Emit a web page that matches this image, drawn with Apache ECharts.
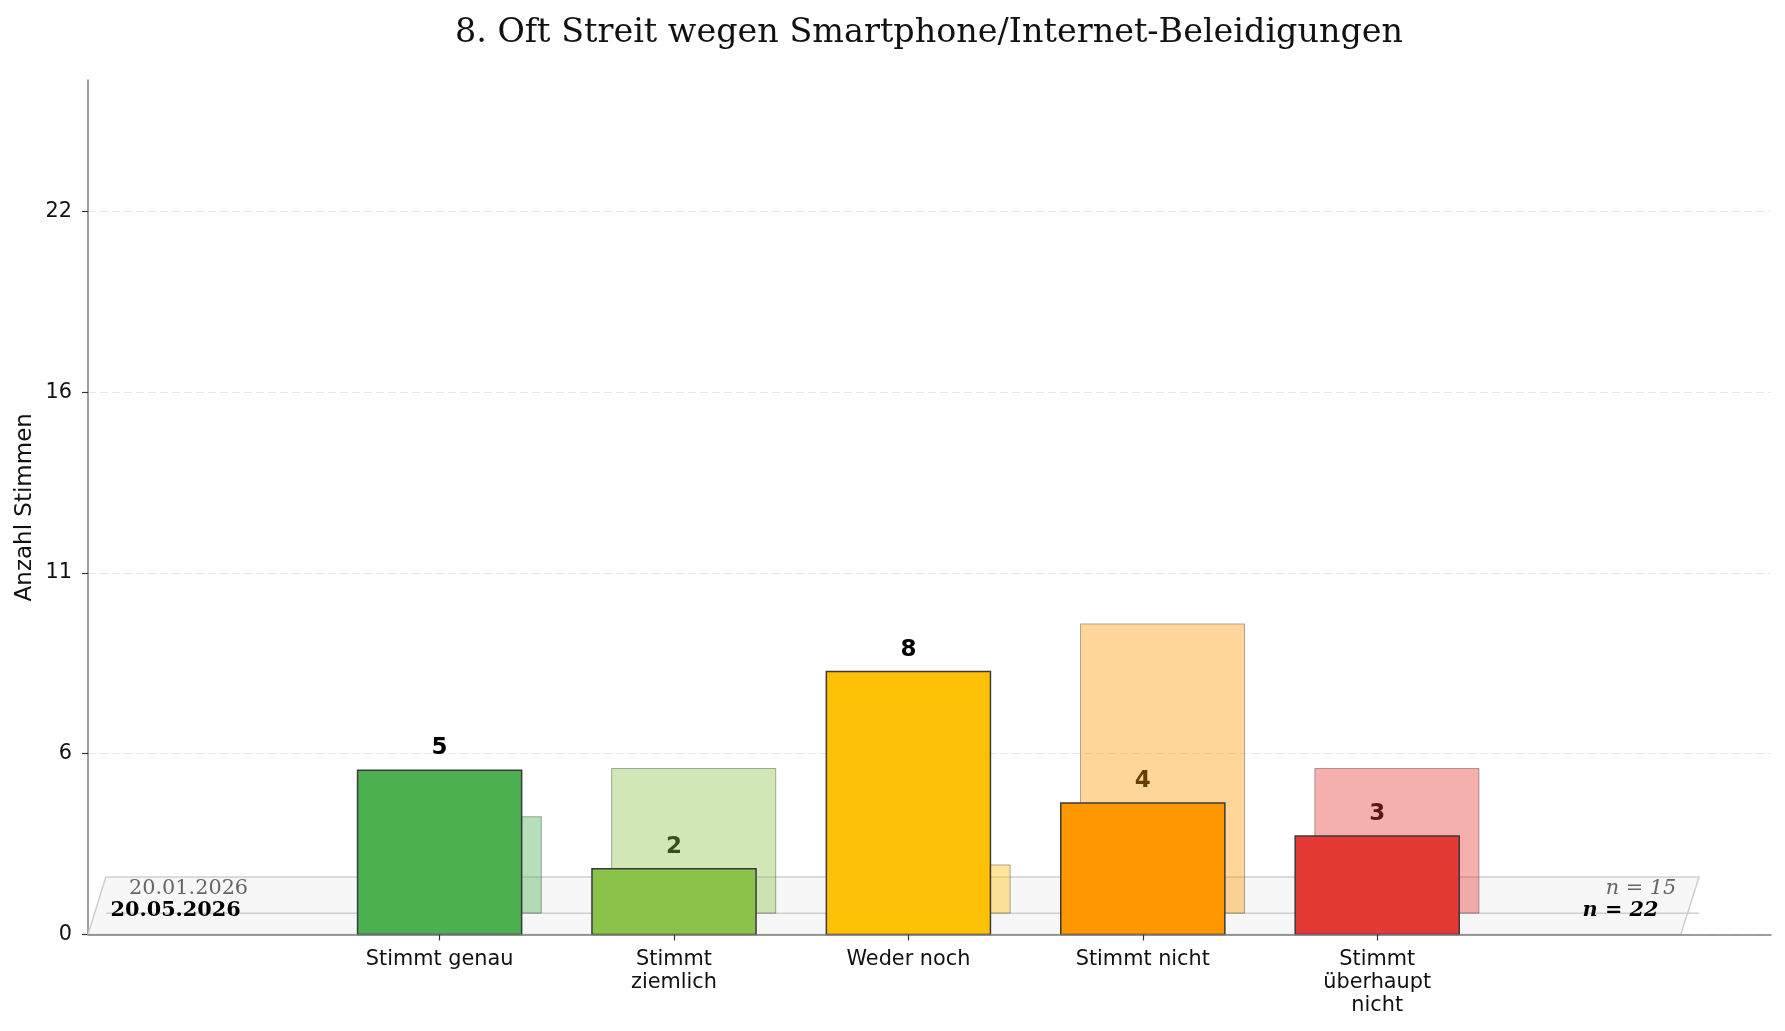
<!DOCTYPE html>
<html>
<head>
<meta charset="utf-8">
<script src="https://cdn.jsdelivr.net/npm/echarts@6/dist/echarts.min.js"></script>
<style>
  html, body { margin: 0; padding: 0; background: #fff; }
  #chart { width: 1785px; height: 1031px; }
</style>
</head>
<body>
<div id="chart"></div>
<script>
// Antwortskala
const categories = ['Stimmt genau', 'Stimmt\nziemlich', 'Weder noch', 'Stimmt nicht', 'Stimmt\nüberhaupt\nnicht'];
const colors = ['#4caf50', '#8bc34a', '#ffc107', '#ff9800', '#e53935'];
// aktuelle Umfrage
const currentDate = '20.05.2026';
const currentVotes = [5, 2, 8, 4, 3];
// vorherige Umfrage
const previousDate = '20.01.2026';
const previousVotes = [2, 3, 1, 6, 3];
// y-Ticks (Beschriftung gerundet)
const yTickValues = [0, 5.5, 11, 16.5, 22];
const yTickLabels = ['0', '6', '11', '16', '22'];

const nCurrent = currentVotes.reduce((a, b) => a + b, 0);
const nPrevious = previousVotes.reduce((a, b) => a + b, 0);
// alte Werte auf die aktuelle Teilnehmerzahl hochgerechnet
const scale = nCurrent / nPrevious;

const BAR_W = 0.7;
const DEPTH_X = 0.084;
const DEPTH_Y = 0.65;

function rectFromData(api, x0, x1, y0, y1) {
  const lt = api.coord([x0, y1]);
  const rb = api.coord([x1, y0]);
  return { x: lt[0], y: lt[1], width: rb[0] - lt[0], height: rb[1] - lt[1] };
}

function renderPlatform(params, api) {
  const p = (x, y) => api.coord([x, y]);
  const l1 = p(-1.424, DEPTH_Y), l2 = p(5.373, DEPTH_Y);
  const t1 = p(-1.325, 1.41), t2 = p(-1.404, 0.72);
  const t3 = p(5.276, 1.41), t4 = p(5.2, 0.72);
  const serif = 'DejaVu Serif';
  return {
    type: 'group',
    children: [
      {
        type: 'polygon',
        shape: { points: [p(-1.5, 0), p(5.295, 0), p(5.373, 1.75), p(-1.424, 1.75)] },
        style: { fill: '#f7f7f7', stroke: '#cfcfcf', lineWidth: 1.5 }
      },
      {
        type: 'line',
        shape: { x1: l1[0], y1: l1[1], x2: l2[0], y2: l2[1] },
        style: { stroke: '#cfcfcf', lineWidth: 1.5 }
      },
      { type: 'text', x: t1[0], y: t1[1],
        style: { text: previousDate, fill: '#666', fontFamily: serif, fontSize: 20.8, align: 'left', verticalAlign: 'middle' } },
      { type: 'text', x: t2[0], y: t2[1],
        style: { text: currentDate, fill: '#000', fontFamily: serif, fontSize: 20.8, fontWeight: 'bold', align: 'left', verticalAlign: 'middle' } },
      { type: 'text', x: t3[0], y: t3[1],
        style: { text: 'n = ' + nPrevious, fill: '#666', fontFamily: serif, fontSize: 20.8, fontStyle: 'italic', align: 'right', verticalAlign: 'middle' } },
      { type: 'text', x: t4[0], y: t4[1],
        style: { text: 'n = ' + nCurrent, fill: '#000', fontFamily: serif, fontSize: 20.8, fontStyle: 'italic', fontWeight: 'bold', align: 'right', verticalAlign: 'middle' } }
    ]
  };
}

function renderGhost(params, api) {
  const x = api.value(0), v = api.value(1);
  return {
    type: 'rect',
    shape: rectFromData(api, x - BAR_W / 2 + DEPTH_X, x + BAR_W / 2 + DEPTH_X, DEPTH_Y, DEPTH_Y + v),
    style: { fill: colors[params.dataIndex], stroke: '#333', lineWidth: 1, opacity: 0.4 }
  };
}

function renderBar(params, api) {
  const x = api.value(0), v = api.value(1);
  return {
    type: 'rect',
    shape: rectFromData(api, x - BAR_W / 2, x + BAR_W / 2, 0, v),
    style: { fill: colors[params.dataIndex], stroke: '#3a3a3a', lineWidth: 1.5 }
  };
}

function renderLabel(params, api) {
  const pt = api.coord([api.value(0), api.value(1)]);
  return {
    type: 'text',
    x: pt[0],
    y: pt[1] - 22,
    style: {
      text: String(api.value(1)),
      fill: '#000',
      fontFamily: 'DejaVu Sans',
      fontSize: 23,
      fontWeight: 'bold',
      align: 'center',
      verticalAlign: 'middle'
    }
  };
}

const chart = echarts.init(document.getElementById('chart'));
const option = {
  animation: false,
  backgroundColor: '#fff',
  title: {
    text: '8. Oft Streit wegen Smartphone/Internet-Beleidigungen',
    left: 924,
    textAlign: 'center',
    top: 12,
    textStyle: { fontFamily: 'DejaVu Serif', fontSize: 33.4, fontWeight: 'normal', color: '#111' }
  },
  grid: { left: 88, right: 14, top: 80, bottom: 96.5, outerBoundsMode: 'none' },
  xAxis: {
    type: 'value',
    min: -1.5,
    max: 5.68,
    z: 10,
    axisLine: { show: true, onZero: false, lineStyle: { color: '#808080', width: 1.5 } },
    axisTick: { show: true, customValues: [0, 1, 2, 3, 4], length: 6, lineStyle: { color: '#333', width: 1.2 } },
    axisLabel: {
      customValues: [0, 1, 2, 3, 4],
      formatter: v => categories[v],
      fontFamily: 'DejaVu Sans',
      fontSize: 20.8,
      lineHeight: 23,
      color: '#111',
      margin: 14
    },
    splitLine: { show: false }
  },
  yAxis: {
    type: 'value',
    min: 0,
    max: 26,
    name: 'Anzahl Stimmen',
    nameLocation: 'middle',
    nameGap: 51,
    nameMoveOverlap: false,
    nameTextStyle: { fontFamily: 'DejaVu Sans', fontSize: 23, color: '#111' },
    axisLine: { show: true, onZero: false, lineStyle: { color: '#808080', width: 1.5 } },
    axisTick: { show: true, customValues: yTickValues, length: 6, lineStyle: { color: '#333', width: 1.2 } },
    axisLabel: {
      customValues: yTickValues,
      formatter: v => yTickLabels[yTickValues.indexOf(v)],
      fontFamily: 'DejaVu Sans',
      fontSize: 20.8,
      color: '#111',
      margin: 16
    },
    splitLine: { show: true, lineStyle: { color: '#e8e8e8', type: [8, 4], width: 1 } }
  },
  series: [
    {
      type: 'custom',
      z: 1,
      silent: true,
      renderItem: renderPlatform,
      data: [[0, 0]]
    },
    {
      type: 'custom',
      z: 2,
      renderItem: renderLabel,
      data: currentVotes.map((v, i) => [i, v])
    },
    {
      type: 'custom',
      z: 3,
      renderItem: renderGhost,
      data: previousVotes.map((v, i) => [i, v * scale])
    },
    {
      type: 'custom',
      z: 4,
      renderItem: renderBar,
      data: currentVotes.map((v, i) => [i, v])
    }
  ]
};
chart.setOption(option);
</script>
</body>
</html>
